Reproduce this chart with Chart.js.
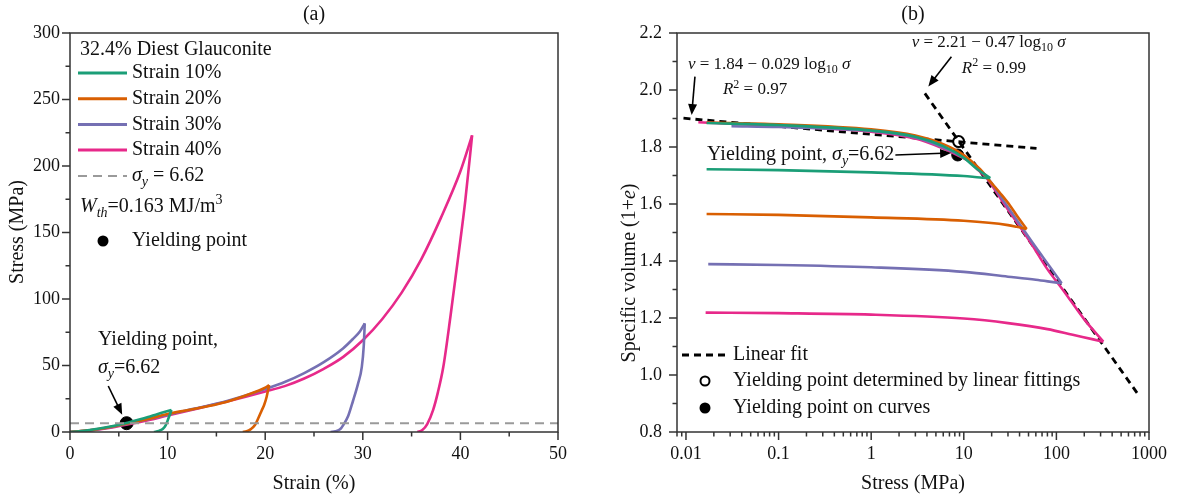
<!DOCTYPE html>
<html lang="en">
<head>
<meta charset="UTF-8">
<title>Stress-strain and specific volume</title>
<style>
  html, body { margin: 0; padding: 0; background: #fff; }
  #wrap { position: relative; width: 1192px; height: 497px; }
  canvas { position: absolute; top: 0; }
  #chartA { left: 0; }
  #chartB { left: 596px; }
</style>
</head>
<body>
<div id="wrap">
  <canvas id="chartA" width="596" height="497"></canvas>
  <canvas id="chartB" width="596" height="497"></canvas>
</div>
<script src="https://cdn.jsdelivr.net/npm/chart.js@4.4.0/dist/chart.umd.min.js"></script>
<script>
const FONT = "'Liberation Serif', 'DejaVu Serif', serif";
const colors = ['#1b9e77', '#d95f02', '#7570b3', '#e7298a'];
const seriesLabels = ['Strain 10%', 'Strain 20%', 'Strain 30%', 'Strain 40%'];
const sigmaY = 6.62;

// (a) stress-strain paths, loading then unloading
const strain10 = [0, 1, 2, 3, 4, 5, 6, 7, 8, 9, 10.4, 10.1, 9.8, 9.5, 9.1, 8.6];
const stress10 = [0, 0.5, 1.4, 2.6, 3.9, 5.4, 7.2, 9.2, 11.3, 13.6, 16.5, 10.5, 5, 2.3, 0.8, 0];
const strain20 = [0, 2, 4, 6, 8, 10, 12, 14, 16, 18, 20, 20.4, 20.15, 19.9, 19.64, 19.3, 18.95, 18.5, 18.1, 17.7];
const stress20 = [0, 1.3, 3.6, 6.6, 9.8, 13.6, 16.4, 19.2, 22.6, 27.5, 33.3, 35.3, 26.5, 20.5, 16.2, 10.5, 5.3, 2, 0.5, 0];
const strain30 = [0, 2, 4, 6, 8, 10, 12, 14, 16, 18, 20, 22, 24, 26, 28, 29, 29.7, 30.2, 30.1, 29.9, 29.5, 29.0, 28.5, 28.0, 27.7, 27.2, 26.7];
const stress30 = [0, 1.2, 3.4, 6.4, 9.6, 13, 16.3, 19.6, 23.2, 27.4, 32.3, 37.6, 44.3, 52.5, 63, 70, 75.5, 81.7, 65, 49, 36, 23.5, 12, 5.3, 2.2, 0.6, 0];
const strain40 = [0, 2, 4, 6, 8, 10, 12, 14, 16, 18, 20, 22, 24, 26, 28, 30, 32, 34, 36, 38, 40, 41.2, 40.5, 39.8, 39.0, 38.25, 37.7, 37.2, 36.6, 36.1, 35.6];
const stress40 = [0, 1.0, 3.0, 5.8, 8.9, 12.4, 15.8, 19.3, 22.8, 26.5, 30.4, 34.5, 40.2, 47.5, 56.5, 69, 85, 105, 130, 161, 196, 223, 174, 133, 88, 49, 30, 16.5, 6, 1.5, 0];
const yieldStrain = 5.8;

// (b) specific volume vs stress, upper branch then lower branch
const sigma10 = [0.0167, 0.1, 1, 3, 6, 10, 14, 19.3, 15, 10, 1, 0.1, 0.0167];
const v10 = [1.884, 1.877, 1.858, 1.836, 1.803, 1.762, 1.722, 1.691, 1.693, 1.698, 1.711, 1.719, 1.722];
const sigma20 = [0.0167, 0.1, 1, 3, 6, 10, 15, 20, 25, 31.5, 38, 47.8, 37.2, 30, 10, 1, 0.1, 0.0167];
const v20 = [1.886, 1.880, 1.862, 1.840, 1.810, 1.772, 1.722, 1.673, 1.636, 1.595, 1.556, 1.512, 1.520, 1.526, 1.541, 1.553, 1.562, 1.565];
const sigma30 = [0.031, 0.1, 1, 3, 6, 8.5, 11.6, 17.8, 28.6, 40.4, 60, 85, 114, 101.7, 60, 30, 10, 1, 0.1, 0.0174];
const v30 = [1.873, 1.870, 1.856, 1.833, 1.798, 1.775, 1.750, 1.694, 1.598, 1.528, 1.448, 1.380, 1.322, 1.324, 1.334, 1.345, 1.362, 1.378, 1.386, 1.389];
const sigma40 = [0.0136, 0.03, 0.1, 0.3, 1, 3, 6, 8.5, 11.6, 14, 17.8, 22, 28.6, 40.4, 55, 78.5, 120, 200, 321, 250, 150, 80, 30, 10, 1, 0.1, 0.0163];
const v40 = [1.887, 1.882, 1.874, 1.866, 1.854, 1.830, 1.795, 1.772, 1.748, 1.722, 1.690, 1.646, 1.590, 1.520, 1.455, 1.375, 1.295, 1.195, 1.117, 1.125, 1.141, 1.161, 1.182, 1.198, 1.212, 1.217, 1.219];
const fitFlatSigma = [0.0094, 61];
const fitFlatV = [1.901, 1.795];
const fitSteepSigma = [3.8, 770];
const fitSteepV = [1.988, 0.93];
const yieldCurve = [8.6, 1.772];
const yieldFit = [8.8, 1.819];

// split a path at its extreme point, both parts returned in ascending x
function splitPath(xs, ys, key) {
  const k = key.indexOf(Math.max(...key));
  const up = xs.slice(0, k + 1).map((v, i) => ({ x: v, y: ys[i] }));
  const down = xs.slice(k).map((v, i) => ({ x: v, y: ys[k + i] })).reverse();
  return [up, down];
}

function curve(data, color) {
  return { data, showLine: true, borderColor: color, borderWidth: 2.6, pointRadius: 0,
           cubicInterpolationMode: 'monotone', fill: false };
}

function rich(ctx, parts, x, y, size, align) {
  const fontFor = f => (f.includes('i') ? 'italic ' : '') +
    ((f.includes('b') || f.includes('p')) ? Math.round(size * 0.68) : size) + 'px ' + FONT;
  let w = 0;
  parts.forEach(([t, f = '']) => { ctx.font = fontFor(f); w += ctx.measureText(t).width; });
  let cx = align === 'center' ? x - w / 2 : align === 'right' ? x - w : x;
  ctx.textAlign = 'left';
  ctx.textBaseline = 'middle';
  ctx.fillStyle = '#111';
  parts.forEach(([t, f = '']) => {
    ctx.font = fontFor(f);
    const dy = f.includes('b') ? size * 0.3 : f.includes('p') ? -size * 0.32 : 0;
    ctx.fillText(t, cx, y + dy);
    cx += ctx.measureText(t).width;
  });
}

function arrow(ctx, x1, y1, x2, y2) {
  const a = Math.atan2(y2 - y1, x2 - x1), h = 11, w = 4.5;
  const c = Math.cos(a), s = Math.sin(a);
  ctx.strokeStyle = '#000'; ctx.fillStyle = '#000'; ctx.lineWidth = 1.6; ctx.setLineDash([]);
  ctx.beginPath(); ctx.moveTo(x1, y1); ctx.lineTo(x2 - h * 0.8 * c, y2 - h * 0.8 * s); ctx.stroke();
  ctx.beginPath(); ctx.moveTo(x2, y2);
  ctx.lineTo(x2 - h * c + w * s, y2 - h * s - w * c);
  ctx.lineTo(x2 - h * c - w * s, y2 - h * s + w * c);
  ctx.closePath(); ctx.fill();
}

function seg(ctx, x1, y1, x2, y2, color, width, dash) {
  ctx.strokeStyle = color; ctx.lineWidth = width; ctx.setLineDash(dash || []);
  ctx.beginPath(); ctx.moveTo(x1, y1); ctx.lineTo(x2, y2); ctx.stroke();
  ctx.setLineDash([]);
}

function dot(ctx, x, y, r, open) {
  ctx.beginPath(); ctx.arc(x, y, r, 0, Math.PI * 2);
  ctx.fillStyle = open ? '#fff' : '#000'; ctx.fill();
  if (open) { ctx.strokeStyle = '#000'; ctx.lineWidth = 2; ctx.stroke(); }
}

// frame, ticks, titles, notes
const decor = {
  id: 'decor',
  afterDraw(chart, args, opts) {
    const { ctx, chartArea: a, scales: { x, y } } = chart;
    ctx.save();
    ctx.strokeStyle = '#333'; ctx.lineWidth = 1.5;
    ctx.strokeRect(a.left, a.top, a.right - a.left, a.bottom - a.top);
    const tick = (vals, len, horiz) => vals.forEach(v => {
      if (horiz) { const p = x.getPixelForValue(v); seg(ctx, p, a.bottom, p, a.bottom + len, '#333', 1.5); }
      else { const p = y.getPixelForValue(v); seg(ctx, a.left, p, a.left - len, p, '#333', 1.5); }
    });
    tick(opts.xMajor, 8, true); tick(opts.xMinor, 4.5, true);
    tick(opts.yMajor, 8, false); tick(opts.yMinor, 4.5, false);
    rich(ctx, [[opts.panel]], opts.panelX, 15, 20, 'center');
    rich(ctx, [[opts.xTitle]], (a.left + a.right) / 2, 484, 20, 'center');
    ctx.save();
    ctx.translate(opts.yTitleX, opts.yTitleY);
    ctx.rotate(-Math.PI / 2);
    rich(ctx, opts.yTitle, 0, 0, 20, 'center');
    ctx.restore();
    opts.notes(chart, ctx);
    ctx.restore();
  }
};

function range(a, b, step) { const r = []; for (let v = a; v <= b + 1e-9; v += step) r.push(+v.toFixed(4)); return r; }

const tickFont = { family: FONT, size: 18 };

// ---------- (a)
const pathsA = [[strain10, stress10], [strain20, stress20], [strain30, stress30], [strain40, stress40]];
const dsA = [{ data: [{ x: 0, y: sigmaY }, { x: 50, y: sigmaY }], showLine: true, borderColor: '#9a9a9a',
               borderWidth: 2, borderDash: [9, 6], pointRadius: 0 }];
pathsA.forEach(([xs, ys], i) => splitPath(xs, ys, ys).forEach(p => dsA.push(curve(p, colors[i]))));
dsA.push({ data: [{ x: yieldStrain, y: sigmaY }], pointRadius: 6.5, backgroundColor: '#000', borderColor: '#000' });

function notesA(chart, ctx) {
  const { chartArea: a, scales: { x, y } } = chart;
  rich(ctx, [['32.4% Diest Glauconite']], a.left + 10, a.top + 17, 20, 'left');
  seriesLabels.forEach((lab, i) => {
    const yy = a.top + 40 + i * 25.7;
    seg(ctx, a.left + 8, yy, a.left + 57, yy, colors[i], 3);
    rich(ctx, [[lab]], a.left + 62, yy, 20, 'left');
  });
  seg(ctx, a.left + 8, a.top + 143, a.left + 57, a.top + 143, '#9a9a9a', 2, [9, 6]);
  rich(ctx, [['σ', 'i'], ['y', 'ib'], [' = ' + sigmaY]], a.left + 62, a.top + 143, 20, 'left');
  rich(ctx, [['W', 'i'], ['th', 'ib'], ['=0.163 MJ/m'], ['3', 'p']], a.left + 10, a.top + 174, 20, 'left');
  dot(ctx, a.left + 33, a.top + 208, 5.5);
  rich(ctx, [['Yielding point']], a.left + 62, a.top + 208, 20, 'left');
  rich(ctx, [['Yielding point,']], x.getPixelForValue(2.87), y.getPixelForValue(69), 20, 'left');
  rich(ctx, [['σ', 'i'], ['y', 'ib'], ['=' + sigmaY]], x.getPixelForValue(2.87), y.getPixelForValue(48), 20, 'left');
  arrow(ctx, x.getPixelForValue(3.92), y.getPixelForValue(34.6), x.getPixelForValue(5.35), y.getPixelForValue(13));
}

new Chart(document.getElementById('chartA'), {
  type: 'scatter',
  data: { datasets: dsA },
  options: {
    responsive: false, animation: false, devicePixelRatio: 1,
    layout: { padding: { top: 33, right: 38, left: 0, bottom: 0 } },
    plugins: {
      legend: { display: false }, tooltip: { enabled: false },
      decor: { xMajor: range(0, 50, 10), xMinor: range(5, 45, 10), yMajor: range(0, 300, 50), yMinor: range(25, 275, 50),
               panel: '(a)', panelX: 314, xTitle: 'Strain (%)', yTitle: [['Stress (MPa)']], yTitleX: 18, yTitleY: 232,
               notes: notesA }
    },
    scales: {
      x: { type: 'linear', min: 0, max: 50, grid: { display: false, drawTicks: false }, border: { display: false },
           ticks: { stepSize: 10, padding: 11, font: tickFont, color: '#111', maxRotation: 0 },
           afterFit: s => { s.height = 65; } },
      y: { type: 'linear', min: 0, max: 300, grid: { display: false, drawTicks: false }, border: { display: false },
           ticks: { stepSize: 50, padding: 10, font: tickFont, color: '#111' },
           afterFit: s => { s.width = 70; } }
    }
  },
  plugins: [decor]
});

// ---------- (b)
const pathsB = [[sigma10, v10], [sigma20, v20], [sigma30, v30], [sigma40, v40]];
const dsB = [];
pathsB.forEach(([xs, ys], i) => splitPath(xs, ys, xs).forEach(p => dsB.push(curve(p, colors[i]))));
[[fitFlatSigma, fitFlatV], [fitSteepSigma, fitSteepV]].forEach(([xs, ys]) => dsB.push({
  data: xs.map((v, i) => ({ x: v, y: ys[i] })), showLine: true, borderColor: '#000', borderWidth: 2.8,
  borderDash: [7, 5], pointRadius: 0 }));
dsB.push({ data: [{ x: yieldFit[0], y: yieldFit[1] }], pointRadius: 5.5, backgroundColor: '#fff', borderColor: '#000', borderWidth: 2 });
dsB.push({ data: [{ x: yieldCurve[0], y: yieldCurve[1] }], pointRadius: 6, backgroundColor: '#000', borderColor: '#000' });

const decades = [0.01, 0.1, 1, 10, 100, 1000];
const logMinor = [];
[0.001, 0.01, 0.1, 1, 10, 100].forEach(d => { for (let k = 2; k <= 9; k++) { const v = +(k * d).toPrecision(3); if (v >= 0.008 && v < 1000) logMinor.push(v); } });

function notesB(chart, ctx) {
  const { chartArea: a, scales: { x, y } } = chart;
  const P = (s, v) => [x.getPixelForValue(s), y.getPixelForValue(v)];
  const eq = (txt, s, v) => { const [px, py] = P(s, v); rich(ctx, txt, px, py, 17, 'left'); };
  eq([['v', 'i'], [' = 1.84 − 0.029 log'], ['10', 'b'], [' '], ['σ', 'i']], 0.0105, 2.088);
  eq([['R', 'i'], ['2', 'p'], [' = 0.97']], 0.0251, 2.0);
  eq([['v', 'i'], [' = 2.21 − 0.47 log'], ['10', 'b'], [' '], ['σ', 'i']], 2.74, 2.166);
  eq([['R', 'i'], ['2', 'p'], [' = 0.99']], 9.52, 2.077);
  arrow(ctx, ...P(0.0125, 2.047), ...P(0.01152, 1.912));
  arrow(ctx, ...P(7.35, 2.117), ...P(4.14, 2.012));
  const [tx, ty] = P(1.78, 1.772);
  rich(ctx, [['Yielding point, '], ['σ', 'i'], ['y', 'ib'], ['=' + sigmaY]], tx, ty, 20, 'right');
  arrow(ctx, tx + 1, ty, ...P(7.3, 1.779));
  seg(ctx, a.left + 5, a.top + 322, a.left + 51, a.top + 322, '#000', 2.8, [7, 5]);
  rich(ctx, [['Linear fit']], a.left + 56, a.top + 322, 20, 'left');
  dot(ctx, a.left + 28, a.top + 348, 4.5, true);
  rich(ctx, [['Yielding point determined by linear fittings']], a.left + 56, a.top + 348, 20, 'left');
  dot(ctx, a.left + 28, a.top + 375, 5.5);
  rich(ctx, [['Yielding point on curves']], a.left + 56, a.top + 375, 20, 'left');
}

new Chart(document.getElementById('chartB'), {
  type: 'scatter',
  data: { datasets: dsB },
  options: {
    responsive: false, animation: false, devicePixelRatio: 1,
    layout: { padding: { top: 33, right: 43, left: 0, bottom: 0 } },
    plugins: {
      legend: { display: false }, tooltip: { enabled: false },
      decor: { xMajor: decades, xMinor: logMinor, yMajor: range(0.8, 2.2, 0.2), yMinor: range(0.9, 2.1, 0.2),
               panel: '(b)', panelX: 317, xTitle: 'Stress (MPa)',
               yTitle: [['Specific volume (1+'], ['e', 'i'], [')']], yTitleX: 34, yTitleY: 273,
               notes: notesB }
    },
    scales: {
      x: { type: 'logarithmic', min: 0.008, max: 1000, grid: { display: false, drawTicks: false }, border: { display: false },
           afterBuildTicks: s => { s.ticks = decades.map(v => ({ value: v })); },
           ticks: { padding: 11, font: tickFont, color: '#111', maxRotation: 0, autoSkip: false, callback: v => String(v) },
           afterFit: s => { s.height = 65; } },
      y: { type: 'linear', min: 0.8, max: 2.2, grid: { display: false, drawTicks: false }, border: { display: false },
           ticks: { stepSize: 0.2, padding: 15, font: tickFont, color: '#111', callback: v => v.toFixed(1) },
           afterFit: s => { s.width = 81; } }
    }
  },
  plugins: [decor]
});
</script>
</body>
</html>
